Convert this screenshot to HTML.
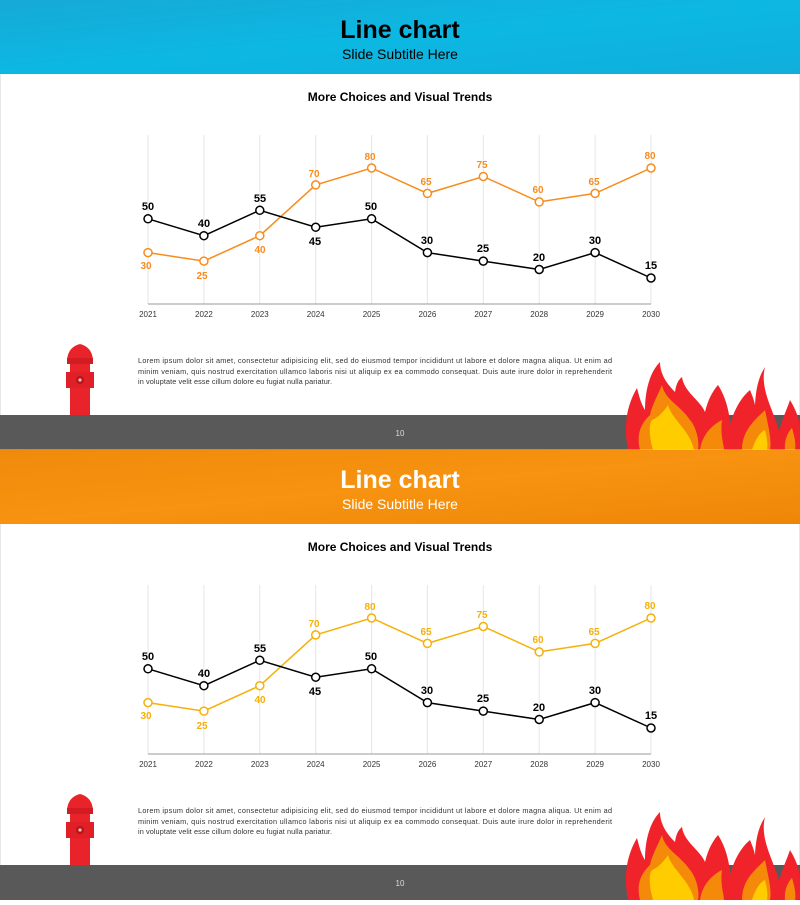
<!DOCTYPE html>
<html><head><meta charset="utf-8"><style>
body{margin:0;width:800px;height:900px;overflow:hidden;background:#fff;font-family:"Liberation Sans",sans-serif}
</style></head><body>
<svg width="800" height="900" viewBox="0 0 800 900" xmlns="http://www.w3.org/2000/svg" font-family="Liberation Sans, sans-serif">
<defs>
<linearGradient id="bl" x1="0" y1="0" x2="1" y2="1"><stop offset="0" stop-color="#16a9d6"/><stop offset="0.5" stop-color="#0cb8e2"/><stop offset="1" stop-color="#10aedb"/></linearGradient>
<linearGradient id="or" x1="0" y1="0" x2="1" y2="1"><stop offset="0" stop-color="#f08a0c"/><stop offset="0.5" stop-color="#f79310"/><stop offset="1" stop-color="#ee8608"/></linearGradient>
<g id="hyd">
<path d="M80 344 q-12 3 -13 16 h26 q-1 -13 -13 -16z" fill="#e8242a"/>
<rect x="67" y="358" width="26" height="6" fill="#d01c22"/>
<rect x="70" y="364" width="20" height="51" fill="#e8242a"/>
<rect x="66" y="372" width="28" height="16" fill="#e01f26"/>
<circle cx="80" cy="380" r="4" fill="#b8141a"/><circle cx="80" cy="380" r="1.6" fill="#f7c0c0"/>
</g>
<g id="fire">
<path d="M628,450 C622,420 630,400 637,388 C640,400 642,405 645,410 C645,390 650,372 660,362 C660,375 668,385 675,392 C676,385 678,380 682,377 C684,392 700,400 705,412 C708,400 712,392 718,385 C728,400 733,425 730,450 Z" fill="#f0232b"/>
<path d="M726,450 C728,420 738,400 750,390 C752,395 754,400 755,405 C756,385 760,375 765,367 C758,395 782,420 782,450 Z" fill="#f0232b"/>
<path d="M778,450 C776,430 785,415 790,400 C796,410 800,420 800,430 L800,450Z" fill="#f0232b"/>
<path d="M640,450 C635,430 645,420 650,415 C652,405 658,395 662,385 C665,400 680,405 690,420 C695,425 700,440 698,450Z" fill="#f58a0a"/>
<path d="M653,450 C650,440 648,425 652,420 C658,418 665,410 668,405 C672,420 690,430 694,450Z" fill="#ffcc00"/>
<path d="M700,450 C702,435 712,425 722,420 C720,435 724,445 724,450Z" fill="#f58a0a"/>
<path d="M742,450 C742,430 755,420 765,410 C768,425 772,440 770,450Z" fill="#f58a0a"/>
<path d="M752,450 C755,440 760,432 765,430 C767,438 768,445 767,450Z" fill="#ffcc00"/>
<path d="M785,450 C784,440 788,432 792,428 C795,438 796,445 795,450Z" fill="#f58a0a"/>
</g>
</defs>

<!-- Slide 1 -->
<rect x="0" y="0" width="800" height="450" fill="#fff" stroke="#d0d0d0"/>
<rect x="0" y="0" width="800" height="74" fill="url(#bl)"/>
<text x="400" y="38" text-anchor="middle" font-size="25" font-weight="bold" fill="#000" font-family="Liberation Sans Narrow, Liberation Sans, sans-serif">Line chart</text>
<text x="400" y="59" text-anchor="middle" font-size="14" fill="#000" font-family="Liberation Sans Narrow, Liberation Sans, sans-serif">Slide Subtitle Here</text>
<text x="400" y="101" text-anchor="middle" font-size="12" font-weight="bold" fill="#000">More Choices and Visual Trends</text>
<g stroke="#e6e6e6" stroke-width="1">
<line x1="148" y1="135" x2="148" y2="304"/><line x1="203.9" y1="135" x2="203.9" y2="304"/><line x1="259.8" y1="135" x2="259.8" y2="304"/><line x1="315.7" y1="135" x2="315.7" y2="304"/><line x1="371.6" y1="135" x2="371.6" y2="304"/><line x1="427.4" y1="135" x2="427.4" y2="304"/><line x1="483.3" y1="135" x2="483.3" y2="304"/><line x1="539.2" y1="135" x2="539.2" y2="304"/><line x1="595.1" y1="135" x2="595.1" y2="304"/><line x1="651" y1="135" x2="651" y2="304"/>
</g>
<line x1="148" y1="304" x2="651" y2="304" stroke="#999"/>
<g font-size="8" fill="#333" text-anchor="middle">
<text x="148" y="317">2021</text><text x="203.9" y="317">2022</text><text x="259.8" y="317">2023</text><text x="315.7" y="317">2024</text><text x="371.6" y="317">2025</text><text x="427.4" y="317">2026</text><text x="483.3" y="317">2027</text><text x="539.2" y="317">2028</text><text x="595.1" y="317">2029</text><text x="651" y="317">2030</text>
</g>
<polyline fill="none" stroke="#f78c1e" stroke-width="1.5" points="148,252.6 203.9,261.1 259.8,235.7 315.7,184.9 371.6,168 427.4,193.4 483.3,176.5 539.2,201.9 595.1,193.4 651,168"/>
<g fill="#fff" stroke="#f78c1e" stroke-width="1.5">
<circle cx="148" cy="252.6" r="4"/><circle cx="203.9" cy="261.1" r="4"/><circle cx="259.8" cy="235.7" r="4"/><circle cx="315.7" cy="184.9" r="4"/><circle cx="371.6" cy="168" r="4"/><circle cx="427.4" cy="193.4" r="4"/><circle cx="483.3" cy="176.5" r="4"/><circle cx="539.2" cy="201.9" r="4"/><circle cx="595.1" cy="193.4" r="4"/><circle cx="651" cy="168" r="4"/>
</g>
<polyline fill="none" stroke="#000" stroke-width="1.5" points="148,218.8 203.9,235.7 259.8,210.3 315.7,227.2 371.6,218.8 427.4,252.6 483.3,261.1 539.2,269.5 595.1,252.6 651,278"/>
<g fill="#fff" stroke="#000" stroke-width="1.5">
<circle cx="148" cy="218.8" r="4"/><circle cx="203.9" cy="235.7" r="4"/><circle cx="259.8" cy="210.3" r="4"/><circle cx="315.7" cy="227.2" r="4"/><circle cx="371.6" cy="218.8" r="4"/><circle cx="427.4" cy="252.6" r="4"/><circle cx="483.3" cy="261.1" r="4"/><circle cx="539.2" cy="269.5" r="4"/><circle cx="595.1" cy="252.6" r="4"/><circle cx="651" cy="278" r="4"/>
</g>
<g font-size="10" font-weight="bold" fill="#f78c1e" text-anchor="middle">
<text x="146" y="269">30</text><text x="202" y="279">25</text><text x="260" y="253">40</text><text x="314" y="177">70</text><text x="370" y="160">80</text><text x="426" y="185">65</text><text x="482" y="168">75</text><text x="538" y="193">60</text><text x="594" y="185">65</text><text x="650" y="159">80</text>
</g>
<g font-size="11" font-weight="bold" fill="#000" text-anchor="middle">
<text x="148" y="210">50</text><text x="204" y="227">40</text><text x="260" y="202">55</text><text x="315" y="245">45</text><text x="371" y="210">50</text><text x="427" y="244">30</text><text x="483" y="252">25</text><text x="539" y="261">20</text><text x="595" y="244">30</text><text x="651" y="269">15</text>
</g>
<g font-size="7.3" fill="#333">
<text x="138" y="363" textLength="474" lengthAdjust="spacing">Lorem ipsum dolor sit amet, consectetur adipisicing elit, sed do eiusmod tempor incididunt ut labore et dolore magna aliqua. Ut enim ad</text>
<text x="138" y="374" textLength="474" lengthAdjust="spacing">minim veniam, quis nostrud exercitation ullamco laboris nisi ut aliquip ex ea commodo consequat. Duis aute irure dolor in reprehenderit</text>
<text x="138" y="384" textLength="194" lengthAdjust="spacing">in voluptate velit esse cillum dolore eu fugiat nulla pariatur.</text>
</g>
<rect x="0" y="415" width="800" height="35" fill="#595959"/>
<text x="400" y="436" text-anchor="middle" font-size="8" fill="#ddd">10</text>
<use href="#hyd"/>
<use href="#fire"/>

<!-- Slide 2 -->
<g transform="translate(0,450)">
<rect x="0" y="0" width="800" height="450" fill="#fff" stroke="#d0d0d0"/>
<rect x="0" y="0" width="800" height="74" fill="url(#or)"/>
<text x="400" y="38" text-anchor="middle" font-size="25" font-weight="bold" fill="#fff" font-family="Liberation Sans Narrow, Liberation Sans, sans-serif">Line chart</text>
<text x="400" y="59" text-anchor="middle" font-size="14" fill="#fff" font-family="Liberation Sans Narrow, Liberation Sans, sans-serif">Slide Subtitle Here</text>
<text x="400" y="101" text-anchor="middle" font-size="12" font-weight="bold" fill="#000">More Choices and Visual Trends</text>
<g stroke="#e6e6e6" stroke-width="1">
<line x1="148" y1="135" x2="148" y2="304"/><line x1="203.9" y1="135" x2="203.9" y2="304"/><line x1="259.8" y1="135" x2="259.8" y2="304"/><line x1="315.7" y1="135" x2="315.7" y2="304"/><line x1="371.6" y1="135" x2="371.6" y2="304"/><line x1="427.4" y1="135" x2="427.4" y2="304"/><line x1="483.3" y1="135" x2="483.3" y2="304"/><line x1="539.2" y1="135" x2="539.2" y2="304"/><line x1="595.1" y1="135" x2="595.1" y2="304"/><line x1="651" y1="135" x2="651" y2="304"/>
</g>
<line x1="148" y1="304" x2="651" y2="304" stroke="#999"/>
<g font-size="8" fill="#333" text-anchor="middle">
<text x="148" y="317">2021</text><text x="203.9" y="317">2022</text><text x="259.8" y="317">2023</text><text x="315.7" y="317">2024</text><text x="371.6" y="317">2025</text><text x="427.4" y="317">2026</text><text x="483.3" y="317">2027</text><text x="539.2" y="317">2028</text><text x="595.1" y="317">2029</text><text x="651" y="317">2030</text>
</g>
<polyline fill="none" stroke="#f5b00a" stroke-width="1.5" points="148,252.6 203.9,261.1 259.8,235.7 315.7,184.9 371.6,168 427.4,193.4 483.3,176.5 539.2,201.9 595.1,193.4 651,168"/>
<g fill="#fff" stroke="#f5b00a" stroke-width="1.5">
<circle cx="148" cy="252.6" r="4"/><circle cx="203.9" cy="261.1" r="4"/><circle cx="259.8" cy="235.7" r="4"/><circle cx="315.7" cy="184.9" r="4"/><circle cx="371.6" cy="168" r="4"/><circle cx="427.4" cy="193.4" r="4"/><circle cx="483.3" cy="176.5" r="4"/><circle cx="539.2" cy="201.9" r="4"/><circle cx="595.1" cy="193.4" r="4"/><circle cx="651" cy="168" r="4"/>
</g>
<polyline fill="none" stroke="#000" stroke-width="1.5" points="148,218.8 203.9,235.7 259.8,210.3 315.7,227.2 371.6,218.8 427.4,252.6 483.3,261.1 539.2,269.5 595.1,252.6 651,278"/>
<g fill="#fff" stroke="#000" stroke-width="1.5">
<circle cx="148" cy="218.8" r="4"/><circle cx="203.9" cy="235.7" r="4"/><circle cx="259.8" cy="210.3" r="4"/><circle cx="315.7" cy="227.2" r="4"/><circle cx="371.6" cy="218.8" r="4"/><circle cx="427.4" cy="252.6" r="4"/><circle cx="483.3" cy="261.1" r="4"/><circle cx="539.2" cy="269.5" r="4"/><circle cx="595.1" cy="252.6" r="4"/><circle cx="651" cy="278" r="4"/>
</g>
<g font-size="10" font-weight="bold" fill="#f5b00a" text-anchor="middle">
<text x="146" y="269">30</text><text x="202" y="279">25</text><text x="260" y="253">40</text><text x="314" y="177">70</text><text x="370" y="160">80</text><text x="426" y="185">65</text><text x="482" y="168">75</text><text x="538" y="193">60</text><text x="594" y="185">65</text><text x="650" y="159">80</text>
</g>
<g font-size="11" font-weight="bold" fill="#000" text-anchor="middle">
<text x="148" y="210">50</text><text x="204" y="227">40</text><text x="260" y="202">55</text><text x="315" y="245">45</text><text x="371" y="210">50</text><text x="427" y="244">30</text><text x="483" y="252">25</text><text x="539" y="261">20</text><text x="595" y="244">30</text><text x="651" y="269">15</text>
</g>
<g font-size="7.3" fill="#333">
<text x="138" y="363" textLength="474" lengthAdjust="spacing">Lorem ipsum dolor sit amet, consectetur adipisicing elit, sed do eiusmod tempor incididunt ut labore et dolore magna aliqua. Ut enim ad</text>
<text x="138" y="374" textLength="474" lengthAdjust="spacing">minim veniam, quis nostrud exercitation ullamco laboris nisi ut aliquip ex ea commodo consequat. Duis aute irure dolor in reprehenderit</text>
<text x="138" y="384" textLength="194" lengthAdjust="spacing">in voluptate velit esse cillum dolore eu fugiat nulla pariatur.</text>
</g>
<rect x="0" y="415" width="800" height="35" fill="#595959"/>
<text x="400" y="436" text-anchor="middle" font-size="8" fill="#ddd">10</text>
<use href="#hyd"/>
<use href="#fire"/>
</g>
</svg>
</body></html>
